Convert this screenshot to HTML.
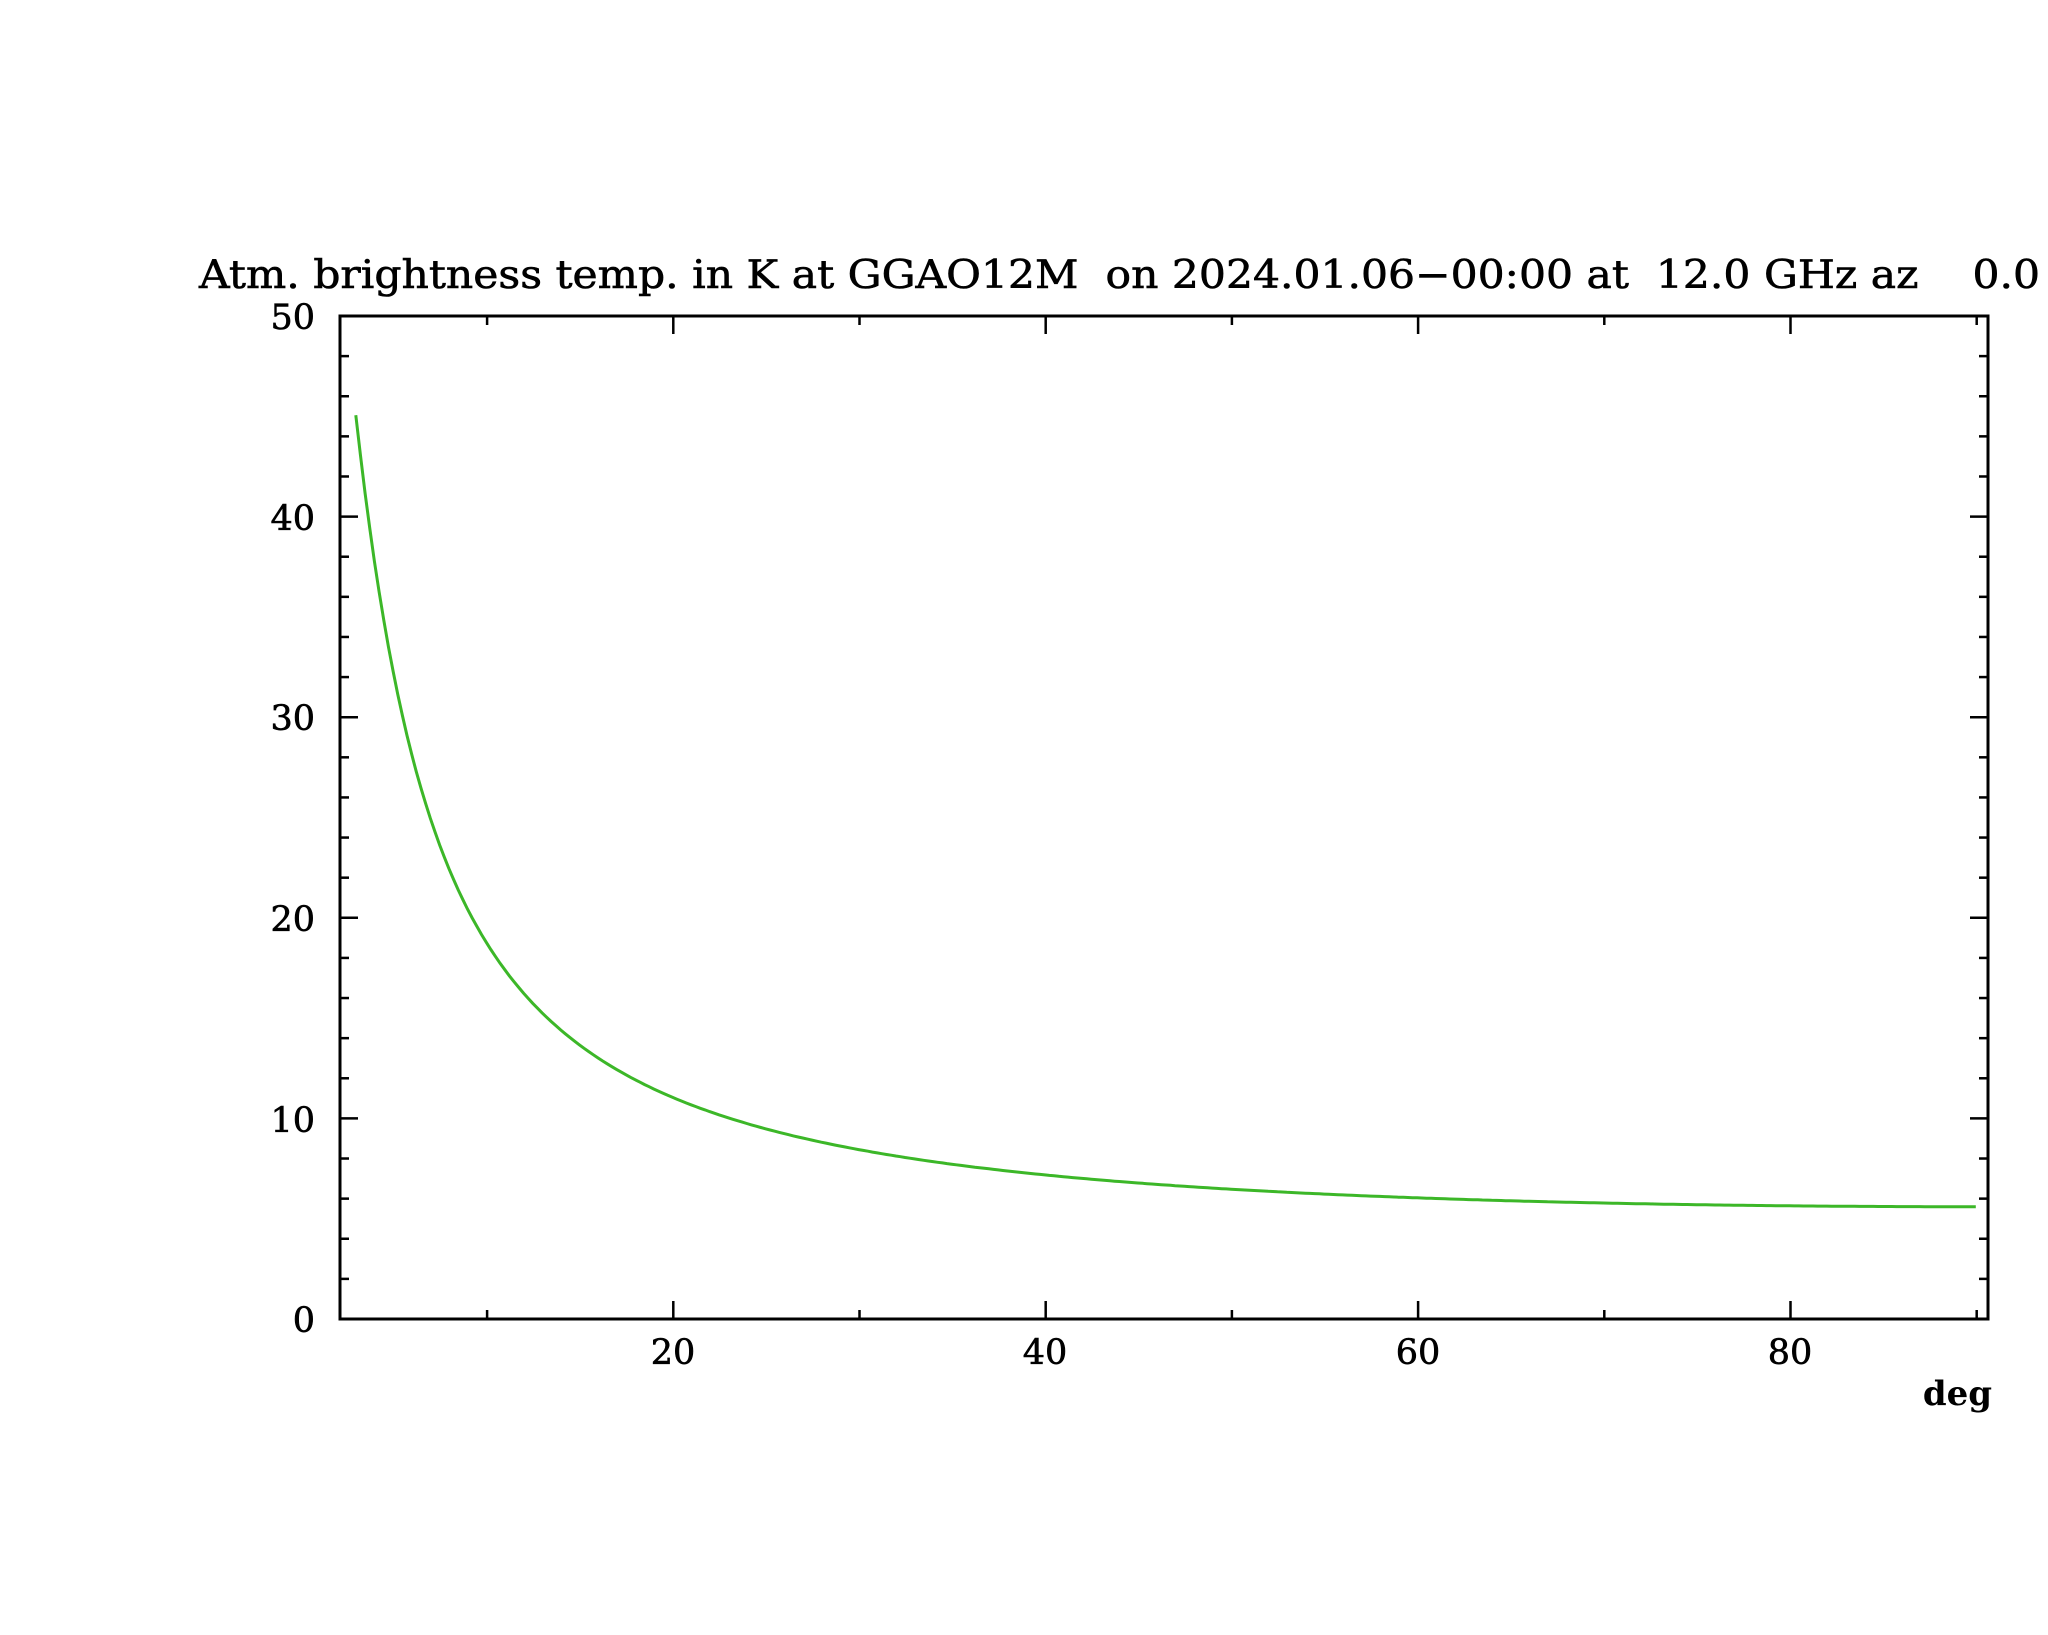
<!DOCTYPE html>
<html><head><meta charset="utf-8"><style>html,body{margin:0;padding:0;background:#fff}svg{display:block}</style></head>
<body>
<svg id="s" width="2048" height="1635" viewBox="0 0 2048 1635" xmlns="http://www.w3.org/2000/svg" font-family="'DejaVu Serif', 'Liberation Serif', serif">
<rect width="2048" height="1635" fill="#fff"/>
<text x="199" y="288" font-size="39" stroke="#000" stroke-width="0.6" xml:space="preserve" textLength="1841" lengthAdjust="spacingAndGlyphs">Atm. brightness temp. in K at GGAO12M  on 2024.01.06−00:00 at  12.0 GHz az    0.0</text>
<g id="ticks" stroke="#000" stroke-width="2.5"></g>
<rect x="340" y="316" width="1648" height="1003" fill="none" stroke="#000" stroke-width="3"/>
<g font-size="35" text-anchor="end" stroke="#000" stroke-width="0.6">
<text x="315" y="1332">0</text><text x="315" y="1132">10</text><text x="315" y="931">20</text><text x="315" y="730">30</text><text x="315" y="530">40</text><text x="315" y="329">50</text>
</g>
<g font-size="35" text-anchor="middle" stroke="#000" stroke-width="0.6">
<text x="673" y="1364">20</text><text x="1045" y="1364">40</text><text x="1418" y="1364">60</text><text x="1790" y="1364">80</text>
</g>
<text x="1992" y="1405" font-size="34" font-weight="bold" text-anchor="end">deg</text>
<path id="curve" fill="none" stroke="#3cb728" stroke-width="3"/>
</svg>
<script>
var X=function(d){return 340+(d-2.1)*18.62;},Y=function(v){return 1319-v*20.06;};
var g=document.getElementById('ticks'),h='';
for(var d=10;d<=90;d+=10){var x=X(d),L=(d%20==0)?18:9;h+='<line x1="'+x+'" y1="316" x2="'+x+'" y2="'+(316+L)+'"/><line x1="'+x+'" y1="1319" x2="'+x+'" y2="'+(1319-L)+'"/>';}
for(var v=2;v<50;v+=2){var y=Y(v),L=(v%10==0)?18:9;h+='<line x1="340" y1="'+y+'" x2="'+(340+L)+'" y2="'+y+'"/><line x1="1988" y1="'+y+'" x2="'+(1988-L)+'" y2="'+y+'"/>';}
g.innerHTML=h;
var p='';for(var e=2.95;e<=90.01;e+=0.25){var s=Math.sin(e*Math.PI/180);var t=2.74+2.86/Math.sqrt(s*s+0.00192);p+=(p?'L':'M')+X(e).toFixed(1)+','+Y(t).toFixed(1);}
document.getElementById('curve').setAttribute('d',p);
</script>
</body></html>
